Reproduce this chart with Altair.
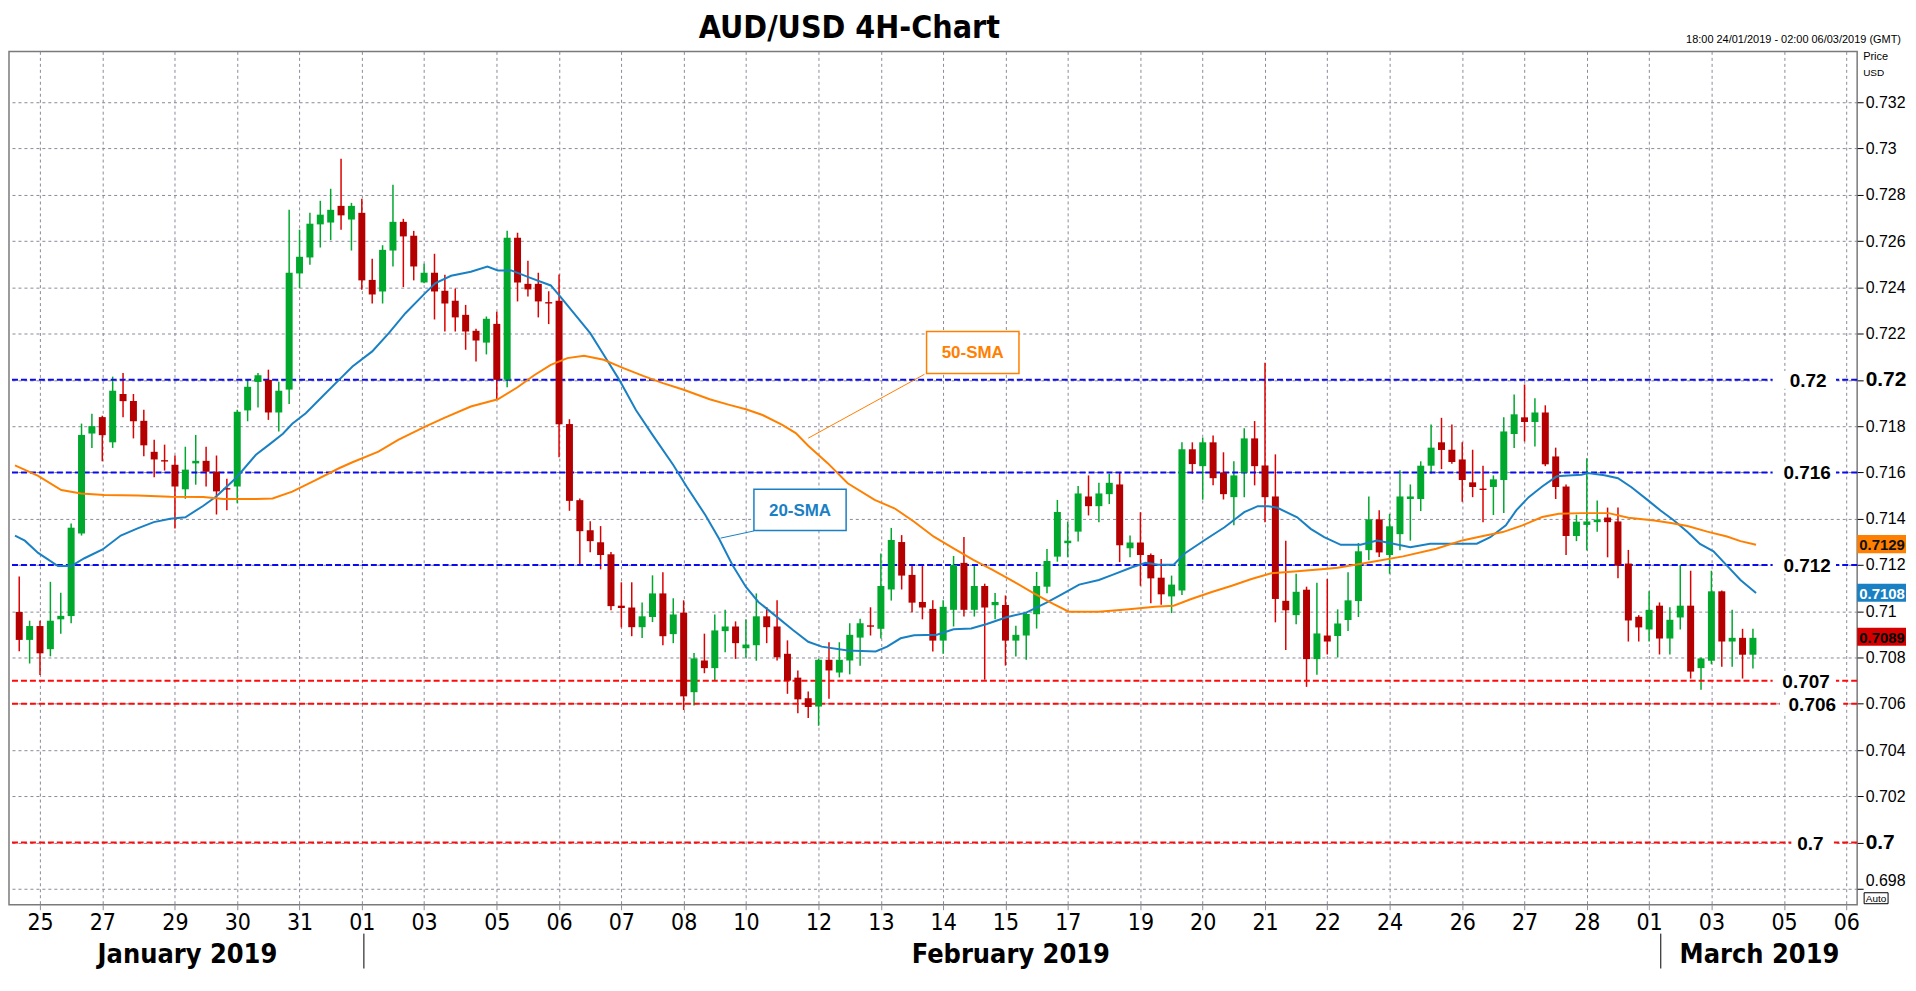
import altair as alt
import pandas as pd

# ---------------- data ----------------
opens = [.70997,.70876,.70936,.70836,.70965,.70979,.71336,.71768,.71839,.71730,
 .71939,.71909,.71823,.71689,.71653,.71633,.71527,.71639,.71650,.71603,
 .71532,.71539,.71868,.71991,.72000,.71859,.71958,.72460,.72529,.72672,
 .72680,.72752,.72693,.72722,.72432,.72382,.72559,.72683,.72623,.72421,
 .72463,.72385,.72342,.72281,.72212,.72161,.72242,.72000,.72614,.72415,
 .72415,.72336,.72342,.71809,.71480,.71350,.71298,.71246,.71024,.71016,
 .70931,.70975,.71077,.70901,.70994,.70650,.70787,.70754,.70914,.70934,
 .70840,.70853,.70978,.70934,.70816,.70713,.70624,.70588,.70790,.70735,
 .70787,.70886,.70939,.70924,.71094,.71299,.71157,.71040,.71010,.70873,
 .71006,.71209,.71006,.71109,.71026,.71027,.70873,.70895,.70987,.71106,
 .71236,.71294,.71344,.71496,.71454,.71506,.71548,.71272,.71297,.71243,
 .71145,.71064,.71090,.71700,.71627,.71730,.71599,.71493,.71599,.71747,
 .71630,.71496,.71045,.70983,.71093,.70793,.70895,.70893,.70962,.71044,
 .71264,.71397,.71243,.71333,.71485,.71485,.71629,.71730,.71698,.71656,
 .71557,.71530,.71537,.71567,.71766,.71838,.71818,.71859,.71669,.71539,
 .71325,.71373,.71385,.71405,.71388,.71206,.70976,.70921,.71024,.70882,
 .70973,.71024,.70754,.70786,.71086,.70869,.70885,.70812]
highs = [.71150,.70959,.70959,.71127,.71080,.71379,.71811,.71853,.71845,.72014,
 .72030,.71939,.71871,.71741,.71720,.71673,.71711,.71762,.71711,.71673,
 .71573,.71871,.72000,.72030,.72044,.71992,.72735,.72649,.72722,.72774,
 .72826,.72956,.72765,.72783,.72523,.72582,.72843,.72696,.72644,.72502,
 .72545,.72454,.72395,.72324,.72221,.72274,.72294,.72644,.72636,.72515,
 .72463,.72383,.72455,.71830,.71487,.71389,.71368,.71256,.71125,.71125,
 .71038,.71155,.71168,.71056,.71047,.70819,.70903,.70986,.71006,.70956,
 .70965,.71077,.71018,.71047,.70874,.70744,.70653,.70795,.70866,.70866,
 .70948,.70967,.71017,.71250,.71360,.71329,.71197,.71197,.71047,.71047,
 .71239,.71321,.71200,.71119,.71079,.71068,.70937,.70995,.71170,.71269,
 .71481,.71388,.71541,.71587,.71555,.71594,.71600,.71327,.71428,.71250,
 .71226,.71154,.71730,.71730,.71750,.71760,.71687,.71648,.71791,.71822,
 .72074,.71678,.71305,.71162,.71106,.71123,.71139,.71008,.71168,.71295,
 .71496,.71436,.71421,.71609,.71548,.71648,.71807,.71836,.71807,.71730,
 .71698,.71629,.71587,.71838,.71937,.71980,.71920,.71890,.71707,.71548,
 .71417,.71661,.71479,.71448,.71448,.71265,.70983,.71086,.71038,.71017,
 .71200,.71175,.70800,.71175,.71090,.71006,.70924,.70924]
lows = [.70827,.70774,.70724,.70805,.70903,.70948,.71327,.71706,.71648,.71706,
 .71838,.71747,.71670,.71579,.71608,.71358,.71486,.71547,.71539,.71418,
 .71436,.71467,.71821,.71880,.71827,.71777,.71896,.72396,.72497,.72572,
 .72604,.72649,.72559,.72389,.72330,.72330,.72490,.72401,.72430,.72418,
 .72261,.72209,.72209,.72130,.72079,.72110,.71914,.71968,.72339,.72360,
 .72270,.72241,.71665,.71434,.71200,.71255,.71181,.71004,.70930,.70892,
 .70884,.70953,.70853,.70862,.70573,.70592,.70732,.70700,.70823,.70794,
 .70799,.70786,.70862,.70787,.70643,.70559,.70538,.70505,.70622,.70714,
 .70727,.70764,.70895,.70882,.71046,.71094,.70996,.70965,.70826,.70816,
 .70934,.70977,.70977,.70704,.70965,.70765,.70804,.70790,.70925,.71078,
 .71214,.71233,.71301,.71414,.71385,.71463,.71212,.71233,.71110,.71034,
 .71028,.70992,.71070,.71594,.71482,.71544,.71483,.71372,.71493,.71544,
 .71385,.70952,.70832,.70944,.70673,.70725,.70813,.70800,.70914,.70975,
 .71220,.71234,.71162,.71263,.71305,.71433,.71594,.71614,.71637,.71473,
 .71493,.71385,.71416,.71424,.71705,.71734,.71712,.71627,.71485,.71243,
 .71303,.71262,.71344,.71233,.71142,.70869,.70869,.70869,.70813,.70813,
 .70921,.70709,.70661,.70771,.70760,.70760,.70709,.70752]
closes = [.70876,.70936,.70818,.70959,.70980,.71361,.71762,.71800,.71761,.71953,
 .71908,.71821,.71717,.71656,.71647,.71539,.71612,.71650,.71603,.71518,
 .71526,.71862,.71970,.72020,.71859,.71953,.72463,.72532,.72675,.72714,
 .72735,.72711,.72752,.72430,.72369,.72562,.72683,.72620,.72490,.72463,
 .72382,.72330,.72270,.72209,.72170,.72264,.72000,.72614,.72421,.72391,
 .72339,.72330,.71808,.71477,.71346,.71303,.71243,.71022,.71014,.70931,
 .70978,.71077,.70892,.70986,.70632,.70796,.70754,.70917,.70934,.70862,
 .70856,.70978,.70931,.70801,.70700,.70619,.70586,.70790,.70744,.70790,
 .70898,.70948,.70933,.71109,.71308,.71154,.71037,.71016,.70873,.71019,
 .71200,.71006,.71109,.71016,.71040,.70873,.70898,.70988,.71109,.71217,
 .71429,.71305,.71509,.71454,.71509,.71555,.71285,.71297,.71243,.71142,
 .71073,.71115,.71700,.71636,.71730,.71575,.71506,.71587,.71747,.71627,
 .71493,.71053,.71004,.71084,.70793,.70904,.70869,.70947,.71047,.71259,
 .71397,.71254,.71367,.71496,.71496,.71629,.71707,.71697,.71645,.71567,
 .71537,.71524,.71570,.71777,.71851,.71818,.71859,.71635,.71537,.71325,
 .71387,.71388,.71396,.71385,.71197,.70960,.70930,.71006,.70882,.70963,
 .71024,.70739,.70796,.71086,.70869,.70885,.70812,.70885]

# day labels on the bar-index axis
day_idx = [2, 8, 15, 21, 27, 33, 39, 46, 52, 58, 64, 70, 77, 83, 89, 95, 101,
           108, 114, 120, 126, 132, 139, 145, 151, 157, 163, 170, 176]
day_lab = ["25", "27", "29", "30", "31", "01", "03", "05", "06", "07", "08", "10",
           "12", "13", "14", "15", "17", "19", "20", "21", "22", "24", "26", "27",
           "28", "01", "03", "05", "06"]

sma20_x = [-0.41,0.54,1.82,3.73,5.0,6.28,8.03,9.78,11.4,12.96,14.55,16.0,17.74,19.0,20.9,
 22.8,24.1,25.4,26.3,27.6,29.2,30.8,32.1,34.0,35.6,37.2,39.1,40.1,41.6,43.5,45.1,46.1,
 47.4,49.3,51.2,52.1,55.0,56.6,57.8,59.4,61.0,63.0,64.3,66.1,67.4,68.7,70.0,71.2,72.8,
 74.5,76.0,77.3,79.8,82.5,83.6,84.9,86.2,88.4,90.0,91.7,93.2,95.1,97.0,98.9,100.2,102.1,
 104.0,105.3,107.2,108.5,109.7,111.2,112.3,114.2,116.1,118.0,119.3,120.3,121.2,123.1,
 124.4,125.7,127.3,129.2,130.8,132.0,134.0,135.9,138.2,140.4,141.7,143.2,144.2,145.4,
 146.7,148.1,149.2,150.5,151.1,152.7,154.0,155.3,156.9,158.1,159.4,160.7,161.9,163.2,
 164.5,165.8,167.3]
sma20_y = [.71327,.71305,.71252,.71195,.71195,.71229,.71267,.71327,.71358,.71385,.71400,
 .71406,.71456,.71497,.71577,.71676,.71721,.71767,.71810,.71856,.71928,.72000,.72058,
 .72123,.72202,.72288,.72375,.72418,.72450,.72467,.72490,.72473,.72473,.72440,.72408,
 .72361,.72202,.72087,.72000,.71870,.71762,.71632,.71538,.71415,.71314,.71200,.71105,
 .71040,.70982,.70920,.70868,.70847,.70830,.70826,.70847,.70883,.70896,.70898,.70922,
 .70925,.70945,.70974,.70994,.71036,.71067,.71115,.71135,.71157,.71190,.71209,.71201,
 .71201,.71251,.71308,.71363,.71428,.71454,.71454,.71447,.71406,.71356,.71320,.71287,
 .71287,.71306,.71295,.71277,.71292,.71292,.71292,.71320,.71371,.71436,.71493,.71539,
 .71583,.71587,.71590,.71597,.71588,.71575,.71536,.71479,.71435,.71392,.71342,.71291,
 .71259,.71197,.71135,.71079]
sma50_x = [-0.41,1.82,4.05,5.96,8.19,11.4,14.55,17.74,19.65,22.8,24.4,26.3,28.6,30.8,32.1,
 34.6,36.5,39.1,41.0,43.5,46.1,48.0,49.6,51.2,52.8,54.4,56.3,58.2,60.1,62.0,64.0,66.5,
 68.4,70.0,71.6,73.5,74.8,76.0,77.9,79.8,82.4,84.3,86.2,88.1,90.0,91.9,93.8,95.8,97.7,
 99.6,101.1,104.0,106.9,109.4,111.2,112.9,114.8,116.8,118.7,120.6,123.1,125.7,127.0,
 130.1,133.3,136.5,139.0,141.0,142.9,144.8,146.7,148.3,150.5,153.1,155.0,157.5,159.1,
 160.7,162.6,164.5,165.8,167.3]
sma50_y = [.71630,.71585,.71524,.71509,.71502,.71500,.71495,.71494,.71485,.71485,.71487,
 .71517,.71568,.71618,.71644,.71690,.71741,.71798,.71837,.71885,.71916,.71968,.72020,
 .72065,.72094,.72104,.72087,.72051,.72017,.71986,.71957,.71916,.71892,.71873,.71848,
 .71805,.71770,.71715,.71639,.71553,.71481,.71445,.71387,.71322,.71272,.71222,.71178,
 .71128,.71078,.71032,.70998,.70998,.71009,.71019,.71024,.71053,.71082,.71110,.71139,
 .71164,.71173,.71183,.71188,.71212,.71237,.71270,.71306,.71325,.71342,.71371,.71407,
 .71421,.71424,.71424,.71404,.71392,.71381,.71368,.71344,.71323,.71303,.71287]

level_values = [0.72, 0.716, 0.712, 0.707, 0.706, 0.7]
level_texts = ["0.72", "0.716", "0.712", "0.707", "0.706", "0.7"]
level_kind = ["blue", "blue", "blue", "red", "red", "red"]

tag_values = [0.7129, 0.7108, 0.7089]
tag_texts = ["0.7129", "0.7108", "0.7089"]

y_ticks = [0.698, 0.7, 0.702, 0.704, 0.706, 0.708, 0.71, 0.712, 0.714, 0.716, 0.718,
           0.72, 0.722, 0.724, 0.726, 0.728, 0.73, 0.732]

# ---------------- styling ----------------
W, H = 1854, 856
FONT = "Liberation Sans, Arial, sans-serif"
NARROW = "Liberation Sans Narrow, DejaVu Sans Condensed, Liberation Sans, sans-serif"
GREEN = "#00a82e"
RED_BODY = "#b40000"
RED_WICK = "#dd0000"
BLUE_SMA = "#1a80c4"
ORANGE = "#ff8000"
LV_BLUE = "#0a0af0"
LV_RED = "#ff0a0a"
GRID = "#8a8a9a"

xs = alt.Scale(domain=[-0.506, 176.56], nice=False, zero=False)
ys = alt.Scale(domain=[0.697315, 0.734197], nice=False, zero=False)

candles = pd.DataFrame({"i": list(range(len(opens))), "o": opens, "h": highs,
                        "l": lows, "c": closes})
candles["body"] = [GREEN if c >= o else RED_BODY for o, c in zip(opens, closes)]
candles["wick"] = [GREEN if c >= o else RED_WICK for o, c in zip(opens, closes)]

lab_js = "[" + ",".join("'%s'" % s for s in day_lab) + "]"
idx_js = "[" + ",".join(str(v) for v in day_idx) + "]"

big_test = "abs(datum.value - 0.72) < 1e-6 || abs(datum.value - 0.7) < 1e-6"
low_test = "abs(datum.value - 0.698) < 1e-6"

x_axis = alt.Axis(values=day_idx, labelExpr=f"{lab_js}[indexof({idx_js}, datum.value)]",
                  grid=True, gridDash=[3, 3], gridColor=GRID, gridWidth=1,
                  domain=False, ticks=True, tickSize=5, tickColor=GRID,
                  labelFont=NARROW, labelFontSize=23, labelColor="black",
                  labelPadding=2, labelFlush=False, labelBound=False,
                  labelOverlap=False, title=None)
y_axis = alt.Axis(orient="right", values=y_ticks, format=".3~f",
                  grid=True, gridDash=[3, 3], gridColor=GRID, gridWidth=1,
                  domain=False, ticks=True, tickSize=6, tickColor="black",
                  labelPadding=2, labelFont=FONT, labelColor="black",
                  labelFontSize={"condition": {"test": big_test, "value": 21}, "value": 16},
                  labelFontWeight={"condition": {"test": big_test, "value": "bold"},
                                   "value": "normal"},
                  labelBaseline={"condition": {"test": low_test, "value": "bottom"},
                                 "value": "middle"},
                  labelOverlap=False, title=None)


def X(field):
    return alt.X(field, scale=xs, axis=x_axis)


def Y(field):
    return alt.Y(field, scale=ys, axis=y_axis)


# wicks and bodies
wicks = alt.Chart(candles).mark_rule(strokeWidth=1.5).encode(
    x=X("i:Q"), y=Y("l:Q"), y2="h:Q",
    color=alt.Color("wick:N", scale=None),
)
bodies = alt.Chart(candles).mark_bar(size=7).encode(
    x=X("i:Q"), y=Y("o:Q"), y2="c:Q",
    color=alt.Color("body:N", scale=None),
)

levels = pd.DataFrame({"v": level_values, "t": level_texts,
                       "col": [LV_BLUE if k == "blue" else LV_RED for k in level_kind]})
level_rules = alt.Chart(levels).mark_rule(strokeWidth=2, strokeDash=[6, 3]).encode(
    y=Y("v:Q"), color=alt.Color("col:N", scale=None),
)

# label boxes for levels (white background) and texts, in bar-index units
levels["xl"] = [168.9, 168.9, 168.9, 168.9, 169.6, 170.7]
levels["xr"] = [175.0, 175.0, 175.0, 175.0, 175.7, 174.8]
levels["xt"] = [174.1, 174.5, 174.5, 174.4, 175.0, 173.8]
levels["ylo"] = [v - 0.00038 for v in level_values]
levels["yhi"] = [v + 0.00038 for v in level_values]
level_bg = alt.Chart(levels).mark_rect(color="white").encode(
    x=X("xl:Q"), x2="xr:Q", y=Y("ylo:Q"), y2="yhi:Q",
)
level_txt = alt.Chart(levels).mark_text(align="right", baseline="middle", dy=1,
                                        font=FONT, fontSize=19, fontWeight="bold",
                                        color="black").encode(
    x=X("xt:Q"), y=Y("v:Q"), text="t:N",
)

sma20 = alt.Chart(pd.DataFrame({"x": sma20_x, "y": sma20_y})).mark_line(
    color=BLUE_SMA, strokeWidth=2).encode(x=X("x:Q"), y=Y("y:Q"))
sma50 = alt.Chart(pd.DataFrame({"x": sma50_x, "y": sma50_y})).mark_line(
    color=ORANGE, strokeWidth=2).encode(x=X("x:Q"), y=Y("y:Q"))

# SMA annotations (bar-index / price units)
ann = pd.DataFrame({
    "t": ["20-SMA", "50-SMA"],
    "col": [BLUE_SMA, ORANGE],
    "x1": [70.77, 87.4], "x2": [79.65, 96.3],
    "y1": [0.71349, 0.72028], "y2": [0.71527, 0.72209],
    "lx1": [67.56, 76.0], "ly1": [0.71316, 0.71748],
    "lx2": [70.77, 87.2], "ly2": [0.71347, 0.72024],
})
ann["xc"] = (ann["x1"] + ann["x2"]) / 2
ann["yc"] = (ann["y1"] + ann["y2"]) / 2
ann_lead = alt.Chart(ann).mark_rule(strokeWidth=1).encode(
    x=X("lx1:Q"), x2="lx2:Q", y=Y("ly1:Q"), y2="ly2:Q",
    color=alt.Color("col:N", scale=None))
ann_box = alt.Chart(ann).mark_rect(fill="white", strokeWidth=1.5).encode(
    x=X("x1:Q"), x2="x2:Q", y=Y("y1:Q"), y2="y2:Q",
    stroke=alt.Stroke("col:N", scale=None))
ann_txt = alt.Chart(ann).mark_text(font=FONT, fontSize=17, fontWeight="bold",
                                   baseline="middle", dy=1).encode(
    x=X("xc:Q"), y=Y("yc:Q"), text="t:N", color=alt.Color("col:N", scale=None))

# last-value tags on the price axis
tags = pd.DataFrame({"v": tag_values, "t": tag_texts,
                     "bg": [ORANGE, BLUE_SMA, "#d40000"],
                     "fg": ["#111111", "white", "black"]})
tags["lo"] = tags["v"] - 0.00039
tags["hi"] = tags["v"] + 0.00039
tag_box = alt.Chart(tags).mark_rect().encode(
    x=alt.value(W), x2=alt.value(W + 49),
    y=Y("lo:Q"), y2="hi:Q",
    color=alt.Color("bg:N", scale=None))
tag_txt = alt.Chart(tags).mark_text(font=FONT, fontSize=15, fontWeight="bold",
                                    align="center", baseline="middle", dy=1).encode(
    x=alt.value(W + 25), y=Y("v:Q"),
    text="t:N", color=alt.Color("fg:N", scale=None))

one = pd.DataFrame({"a": [0]})


def txt(s, x, y, size, weight="normal", font=FONT, align="center"):
    return alt.Chart(one).mark_text(text=s, font=font, fontSize=size, fontWeight=weight,
                                    align=align, baseline="middle", color="black").encode(
        x=alt.value(x), y=alt.value(y))


title = txt("AUD/USD 4H-Chart", 843, -23, 32, "bold", NARROW)
date_rng = txt("18:00 24/01/2019 - 02:00 06/03/2019 (GMT)", 1898, -11, 11, align="right")
price_lbl = txt("Price", W + 6, 6, 11, align="left")
usd_lbl = txt("USD", W + 6, 22, 10, align="left")
auto_box = alt.Chart(one).mark_rect(fill="white", stroke="black", strokeWidth=1).encode(
    x=alt.value(W + 7), x2=alt.value(W + 31), y=alt.value(H - 12), y2=alt.value(H - 1))
auto_txt = txt("Auto", W + 19, H - 6, 10)
m_jan = txt("January 2019", 179, 906, 27, "bold", NARROW)
m_feb = txt("February 2019", 1005, 906, 27, "bold", NARROW)
m_mar = txt("March 2019", 1756, 906, 27, "bold", NARROW)
sep1 = alt.Chart(one).mark_rule(color="black", strokeWidth=1).encode(
    x=alt.value(356), y=alt.value(885), y2=alt.value(920))
sep2 = alt.Chart(one).mark_rule(color="black", strokeWidth=1).encode(
    x=alt.value(1657), y=alt.value(885), y2=alt.value(920))

chart = alt.layer(
    wicks, level_rules, bodies, sma20, sma50,
    ann_lead, ann_box, ann_txt, level_bg, level_txt,
    tag_box, tag_txt,
    title, date_rng, price_lbl, usd_lbl, auto_box, auto_txt,
    m_jan, m_feb, m_mar, sep1, sep2,
).properties(
    width=W, height=H,
    autosize=alt.AutoSizeParams(type="none"),
    padding={"left": 1, "top": 42, "right": 51, "bottom": 74},
    background="white",
).configure_view(stroke="#7a7a7a", strokeWidth=1.5)

chart.save("out.html", embed_options={"renderer": "svg", "actions": False})
